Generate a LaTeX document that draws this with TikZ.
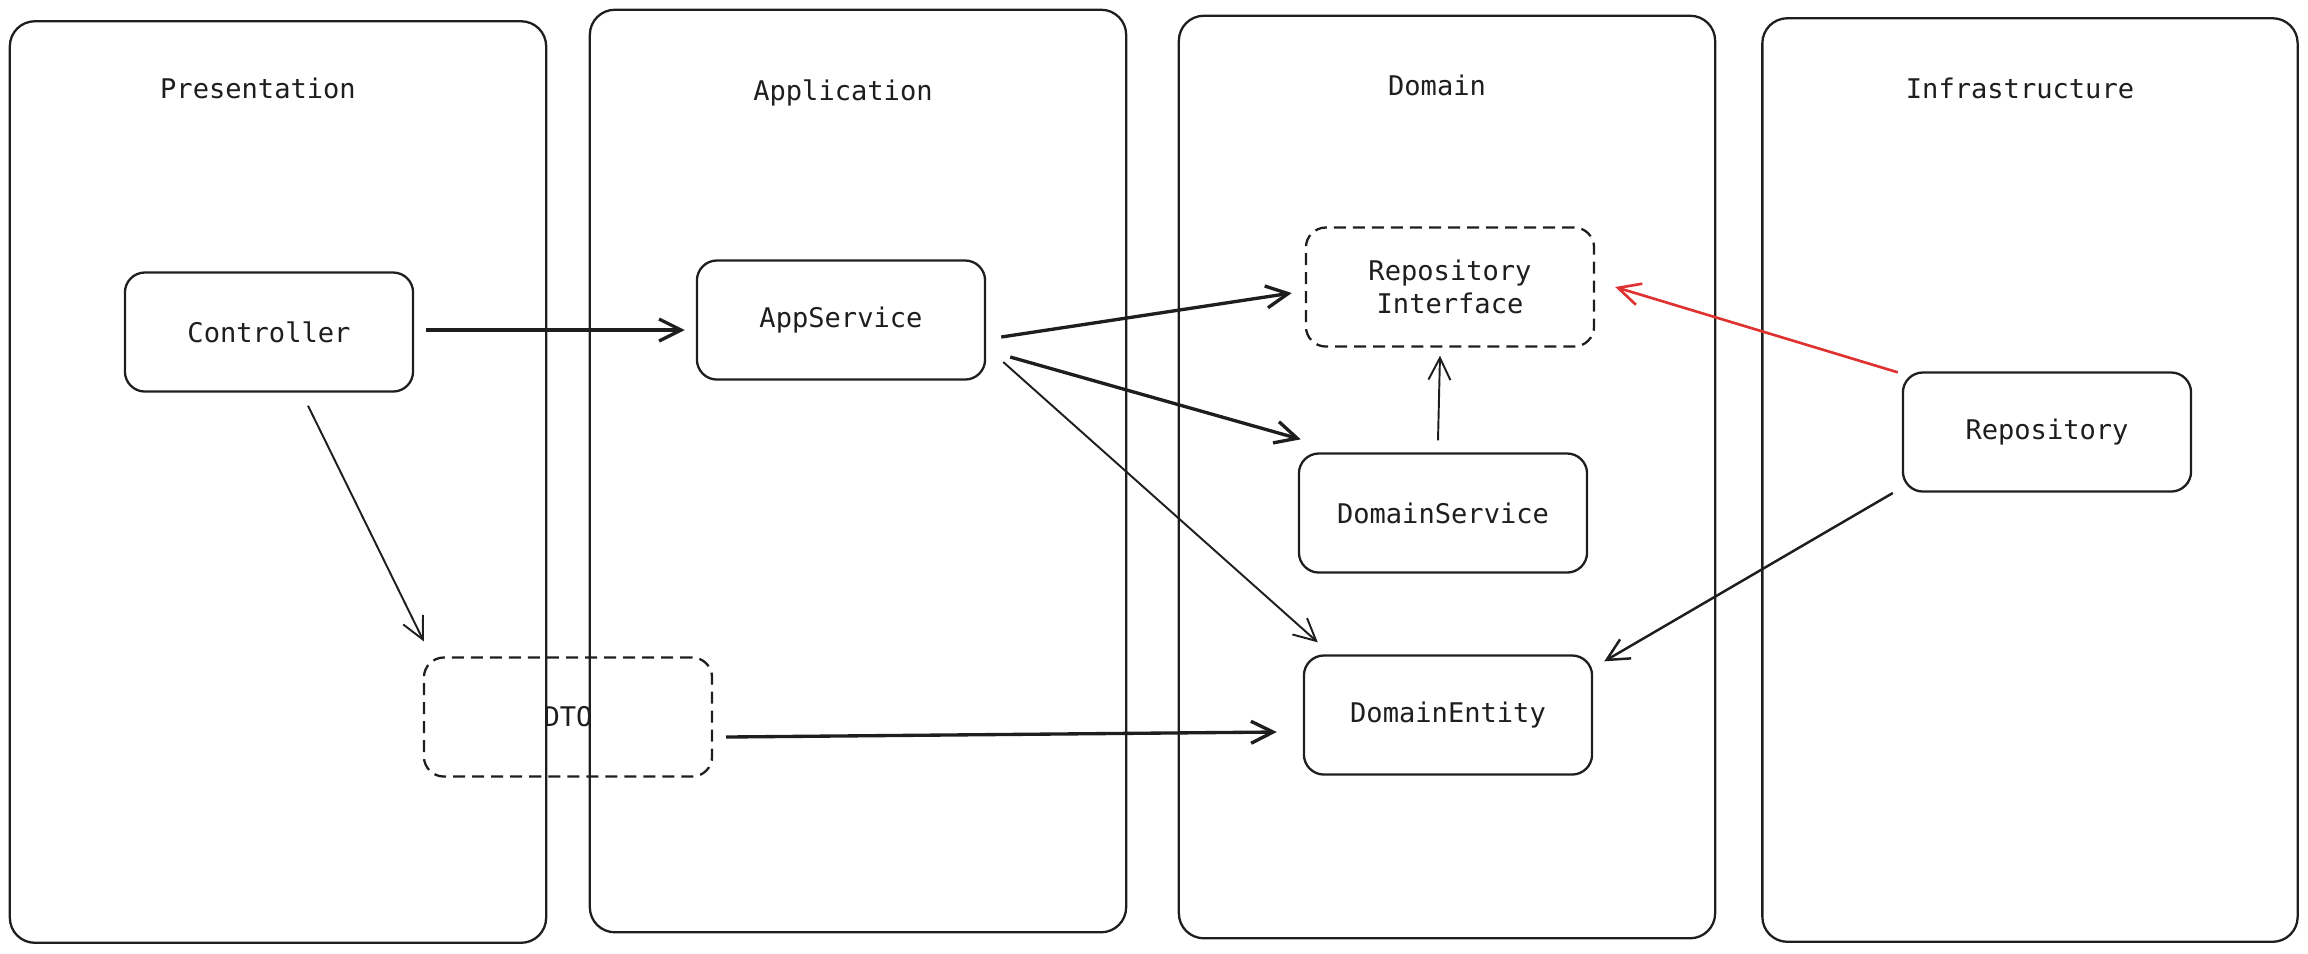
\documentclass[tikz,border=0pt]{standalone}
\usepackage{fontspec}
\setmonofont{DejaVu Sans Mono}
\usetikzlibrary{arrows.meta,calc}
\definecolor{ink}{HTML}{1E1E1E}
\definecolor{alert}{HTML}{E03131}

\begin{document}
\begin{tikzpicture}[x=0.01cm, y=-0.01cm,
    font=\ttfamily\fontsize{7.7}{9.4}\selectfont,
    lane/.style ={draw=ink, line width=0.65pt, rounded corners=0.25cm, inner sep=0pt},
    component/.style ={draw=ink, line width=0.65pt, rounded corners=0.2cm, minimum width=2.88cm, minimum height=1.19cm, align=center, text=ink},
    contract/.style ={component, dash pattern=on 0.12cm off 0.07cm},
    title/.style ={text=ink},
    uses/.style ={draw=ink, line width=0.55pt, -{Straight Barb[length=0.22cm, width=0.22cm]}},
    strong/.style ={uses, line width=0.95pt}]
   \useasboundingbox (0,0) rectangle (2308,953);
   % layers
   \node[lane, minimum width=5.36cm, minimum height=9.21cm] (presentation) at (278,482) {};
   \node[lane, minimum width=5.36cm, minimum height=9.22cm] (application) at (858,471) {};
   \node[lane, minimum width=5.36cm, minimum height=9.22cm] (domain) at (1447,477) {};
   \node[lane, minimum width=5.35cm, minimum height=9.23cm] (infrastructure) at (2030,480) {};
   \node[title] (presentationT) at (258,88) {Presentation};
   \node[title] (applicationT) at (843,93) {Application};
   \node[title] (domainT) at (1437,85) {Domain};
   \node[title] (infrastructureT) at (2020,88) {Infrastructure};
   % components
   \node[component] (ctrl) at (269,332) {Controller};
   \node[component] (app) at (841,320) {AppService};
   \node[contract] (repoif) at (1450,287) {Repository\\Interface};
   \node[component] (dsvc) at (1443,513) {DomainService};
   \node[component] (dent) at (1448,715) {DomainEntity};
   \node[component] (repo) at (2047,432) {Repository};
   \node[contract] (dto) at (568,717) {DTO};
   % dependencies
   \draw[strong] ($(ctrl.east)+(12,-2)$) -- ($(app.west)+(-11,10)$);
   \draw[strong] ($(app.east)+(15,17)$) -- ($(repoif.west)+(-13,6)$);
   \draw[strong] ($(app.east)+(24,37)$) -- ($(dsvc.north west)+(3,-13)$);
   \draw[uses] ($(app.east)+(17,42)$) -- ($(dent.north west)+(15,-12)$);
   \draw[uses] ($(dsvc.north)+(-5,-12)$) -- ($(repoif.south)+(-10,8)$);
   \draw[uses, draw=alert, line width=0.75pt] ($(repo.north west)+(-4,1)$) -- ($(repoif.east)+(20,0)$);
   \draw[uses, line width=0.7pt] ($(repo.west)+(-9,61)$) -- ($(dent.north east)+(11,7)$);
   \draw[uses] ($(ctrl.south)+(39,13)$) -- ($(dto.north west)+(1,-15)$);
   \draw[strong] ($(dto.east)+(13,20)$) -- ($(dent.west)+(-26,17)$);
 \end{tikzpicture}
\end{document}
